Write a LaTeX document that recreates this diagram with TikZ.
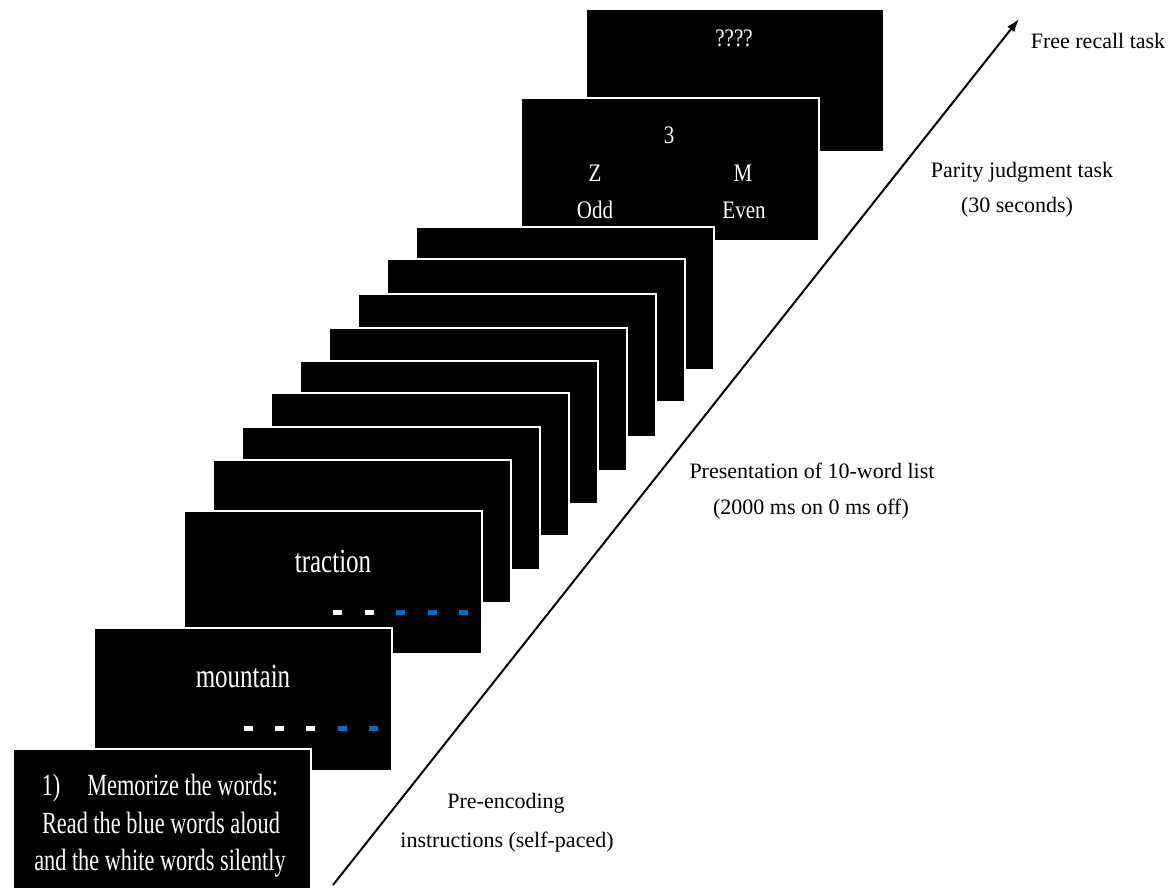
\documentclass[tikz,border=0pt]{standalone}
\usepackage{fontspec}
\usepackage{graphicx}
\setmainfont{Liberation Serif}
\usetikzlibrary{arrows.meta}
\definecolor{dashblue}{HTML}{0070C0}
\newcommand\stretchtxt[2]{\scalebox{1}[#1]{#2}}
\begin{document}
\begin{tikzpicture}[x=1pt,y=-1pt,
  slide/.style={draw=white, line width=1.5pt, fill=black, anchor=north west,
    minimum width=298pt, minimum height=143pt, inner sep=0pt, outer sep=0pt},
  wordtxt/.style={text=white, anchor=base, inner sep=0pt, font=\fontsize{25}{30}\selectfont},
  keytxt/.style={text=white, anchor=base, inner sep=0pt, font=\fontsize{21}{25}\selectfont},
  instrtxt/.style={text=white, anchor=base, inner sep=0pt, font=\fontsize{22.3}{27}\selectfont},
  labeltxt/.style={text=black, anchor=base, inner sep=0pt, font=\fontsize{22}{26}\selectfont},
  timeline/.style={line width=2pt, -{Latex[length=13pt,width=9pt]}},
  whitedash/.style={fill=white},
  bluedash/.style={fill=dashblue}
]
\useasboundingbox (0,0) rectangle (1175,888);
\clip (0,0) rectangle (1175,888);
\fill[white] (0,0) rectangle (1175,888);

% slides, back to front
\node[slide] (recall) at (586,9) {};
\node[slide] (parity) at (521,98) {};
\foreach \px/\py [count=\i] in {416/227,387/259,358/294,329/328,300/361,271/393,242/427,213/460}
  \node[slide] (blank\i) at (\px,\py) {};
\node[slide] (traction) at (184,511) {};
\node[slide] (mountain) at (94,628) {};
\node[slide] (instr) at (13,749) {};

% slide contents
\node[keytxt] (qq) at (734,47) {\stretchtxt{1.2}{????}};
\node[keytxt] (three) at (669,143) {\stretchtxt{1.2}{3}};
\node[keytxt] (zkey) at (595,182) {\stretchtxt{1.2}{Z}};
\node[keytxt] (mkey) at (743,182) {\stretchtxt{1.2}{M}};
\node[keytxt] (odd) at (595,218) {\stretchtxt{1.2}{Odd}};
\node[keytxt] (even) at (744,218) {\stretchtxt{1.2}{Even}};

\node[wordtxt] (wtraction) at (333,572) {\stretchtxt{1.35}{traction}};
\node[wordtxt] (wmountain) at (243,687) {\stretchtxt{1.35}{mountain}};

\foreach \cx in {337,369} \fill[whitedash] (\cx-4.5,610) rectangle (\cx+4.5,614.5);
\foreach \cx in {400,432,463} \fill[bluedash] (\cx-4.5,610) rectangle (\cx+4.5,614.5);
\foreach \cx in {248,279,310} \fill[whitedash] (\cx-4.5,726) rectangle (\cx+4.5,730.5);
\foreach \cx in {342,373} \fill[bluedash] (\cx-4.5,726) rectangle (\cx+4.5,730.5);

\node[instrtxt] (instr1) at (160,795) {\stretchtxt{1.38}{1)\hspace{27pt}Memorize the words:}};
\node[instrtxt] (instr2) at (161,833) {\stretchtxt{1.38}{Read the blue words aloud}};
\node[instrtxt] (instr3) at (160,870) {\stretchtxt{1.38}{and the white words silently}};

% timeline arrow
\coordinate (tstart) at (333,885);
\coordinate (tend) at (1019,19);
\draw[timeline] (tstart) -- (tend);

% labels
\node[labeltxt] (lrecall) at (1098,49) {Free recall task};
\node[labeltxt] (lparity1) at (1022,177) {Parity judgment task};
\node[labeltxt] (lparity2) at (1017,212) {(30 seconds)};
\node[labeltxt] (lpres1) at (812,478) {Presentation of 10-word list};
\node[labeltxt] (lpres2) at (811,514) {(2000 ms on 0 ms off)};
\node[labeltxt] (lpre1) at (506,808) {Pre-encoding};
\node[labeltxt] (lpre2) at (507,847) {instructions (self-paced)};
\end{tikzpicture}
\end{document}
